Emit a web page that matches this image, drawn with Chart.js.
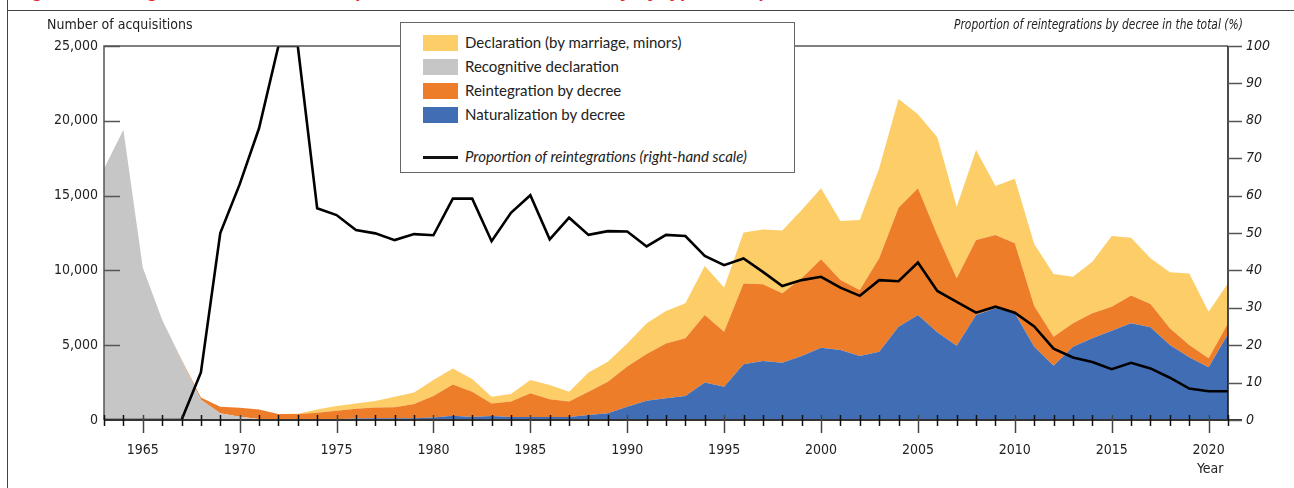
<!DOCTYPE html>
<html>
<head>
<meta charset="utf-8">
<script src="https://cdn.jsdelivr.net/npm/chart.js@4.4.1/dist/chart.umd.min.js"></script>
<style>
  body { margin: 0; background: #fff; width: 1294px; height: 488px; overflow: hidden; position: relative; font-family: 'Liberation Sans Narrow', 'DejaVu Sans Condensed', sans-serif; }
  #chart { position: absolute; left: 0; top: 0; }
  .abs { position: absolute; white-space: nowrap; }
  #titleClip { left: 0; top: 0; width: 1294px; height: 10px; overflow: hidden; }
  #title { left: 14px; top: -19.5px; font: bold 19px 'Liberation Sans', sans-serif; line-height: 19px; color: #e8262b; }
  #frameTop { left: 7px; top: 10px; width: 1287px; height: 0; border-top: 1.5px solid #444; }
  #frameLeft { left: 7px; top: 0; width: 0; height: 488px; border-left: 1.5px solid #444; }
  .axisTitle { font-size: 14px; color: #222; top: 16px; }
  #legend { left: 400px; top: 22px; width: 393px; height: 149px; border: 1.5px solid #666; background: #fff; font-family: Lato, sans-serif; font-size: 15px; color: #222; }
  .sw { position: absolute; left: 22px; width: 35px; height: 16px; }
  .lt { position: absolute; left: 64px; line-height: 18px; }
</style>
</head>
<body>
<div class="abs" id="titleClip"><div class="abs" id="title">Figure 1. Change in the number of acquisitions of French nationality by type of acquisition since 1963</div></div>
<div class="abs" id="frameTop"></div>
<div class="abs" id="frameLeft"></div>
<canvas id="chart" width="1294" height="488"></canvas>
<div class="abs axisTitle" style="left:47px;">Number of acquisitions</div>
<div class="abs axisTitle" style="right:51px;font-style:italic;transform:scaleX(0.85);transform-origin:right center;">Proportion of reintegrations by decree in the total (%)</div>
<div class="abs" style="left:1197px;top:460px;font-size:14px;color:#222;">Year</div>
<div class="abs" id="legend"></div>
<script>
const years = [1963,1964,1965,1966,1967,1968,1969,1970,1971,1972,1973,1974,1975,1976,1977,1978,1979,1980,
  1981,1982,1983,1984,1985,1986,1987,1988,1989,1990,1991,1992,1993,1994,1995,1996,1997,1998,1999,2000,
  2001,2002,2003,2004,2005,2006,2007,2008,2009,2010,2011,2012,2013,2014,2015,2016,2017,2018,2019,2020,2021];

const naturalization = [0,0,0,0,0,0,0,0,0,0,0,20,50,100,110,110,120,160,
  290,200,270,200,200,200,200,330,450,890,1290,1450,1600,2500,2230,3730,3940,3830,4280,4830,
  4680,4280,4570,6240,7020,5860,4970,7020,7470,7130,4900,3630,4900,5460,5970,6460,6200,5010,4190,3520,5750];

const recognitive = [16800,19400,10200,6700,4000,1350,450,220,60,0,0,0,0,0,0,0,0,0,
  0,0,0,0,0,0,0,0,0,0,0,0,0,0,0,0,0,0,0,0,
  0,0,0,0,0,0,0,0,0,0,0,0,0,0,0,0,0,0,0,0,0];

const reintegration = [0,0,0,0,40,150,440,600,650,400,400,470,570,660,720,740,950,1440,
  2090,1690,840,1030,1580,1180,1030,1560,2110,2680,3120,3670,3860,4520,3670,5400,5130,4640,5190,5910,
  4680,4410,6240,7950,8470,6510,4500,5010,4900,4680,2720,1940,1560,1670,1600,1870,1550,1120,820,600,710];

const declaration = [0,0,0,0,0,0,0,0,0,0,20,220,315,350,440,710,760,1070,
  1070,850,450,510,890,960,660,1280,1340,1550,2050,2170,2340,3270,2950,3400,3670,4190,4570,4750,
  3940,4680,6010,7270,4940,6530,4790,6020,3270,4320,4140,4190,3120,3450,4730,3860,3060,3740,4790,3120,2680];

const proportion = [0,0,0,0,0,12.7,50,63,78,100,100,56.6,54.8,50.8,49.9,48.1,49.7,49.4,
  59.2,59.2,47.8,55.4,60.1,48.3,54.1,49.5,50.5,50.4,46.4,49.5,49.2,43.9,41.4,43.2,39.6,35.8,37.4,38.3,
  35.4,33.2,37.4,37.1,42.1,34.5,31.6,28.7,30.3,28.7,25.0,19.1,16.7,15.5,13.6,15.3,13.8,11.3,8.4,7.7,7.7];

const leftTicks = [0, 5000, 10000, 15000, 20000, 25000];
const rightTicks = [0, 10, 20, 30, 40, 50, 60, 70, 80, 90, 100];

const colors = {
  declaration: '#fdcd68',
  recognitive: '#c6c6c6',
  reintegration: '#ed7d28',
  naturalization: '#416db4'
};

// legend (html box, same order as the reference)
const legendItems = [
  ['Declaration (by marriage, minors)', colors.declaration],
  ['Recognitive declaration', colors.recognitive],
  ['Reintegration by decree', colors.reintegration],
  ['Naturalization by decree', colors.naturalization]
];
const legend = document.getElementById('legend');
let html = '';
legendItems.forEach((it, i) => {
  const cy = 19.5 + i * 24.3;
  html += `<div class="sw" style="top:${cy - 8}px;background:${it[1]}"></div>`;
  html += `<div class="lt" style="top:${cy - 10}px">${it[0]}</div>`;
});
html += `<div style="position:absolute;left:22px;top:133px;width:35px;height:3px;background:#111"></div>`;
html += `<div class="lt" style="top:124px;font-style:italic">Proportion of reintegrations (right-hand scale)</div>`;
legend.innerHTML = html;

// ticks drawn by hand: inward on the left, across the axis at the bottom
const axisMarks = {
  id: 'axisMarks',
  afterDraw(chart) {
    const ctx = chart.ctx;
    const a = chart.chartArea;
    const x = chart.scales.x, y = chart.scales.y, y1 = chart.scales.y1;
    ctx.save();
    ctx.lineCap = 'butt';
    // frame
    ctx.strokeStyle = '#555'; ctx.lineWidth = 1.5;
    ctx.beginPath();
    ctx.moveTo(a.left, a.bottom); ctx.lineTo(a.left, a.top); ctx.lineTo(a.right, a.top);
    ctx.stroke();
    ctx.strokeStyle = '#111'; ctx.lineWidth = 1.5;
    ctx.beginPath(); ctx.moveTo(a.right, a.top); ctx.lineTo(a.right, a.bottom); ctx.stroke();
    ctx.strokeStyle = '#333'; ctx.lineWidth = 2;
    ctx.beginPath(); ctx.moveTo(a.left, a.bottom); ctx.lineTo(a.right + 14, a.bottom); ctx.stroke();
    // left ticks
    ctx.strokeStyle = '#555'; ctx.lineWidth = 1.5;
    leftTicks.forEach(v => {
      if (v === 0) return;
      const py = Math.round(y.getPixelForValue(v)) + 0.5;
      ctx.beginPath(); ctx.moveTo(a.left, py); ctx.lineTo(a.left + 16, py); ctx.stroke();
    });
    // right ticks
    rightTicks.forEach(v => {
      const py = Math.round(y1.getPixelForValue(v)) + 0.5;
      ctx.beginPath(); ctx.moveTo(a.right, py); ctx.lineTo(a.right + 14, py); ctx.stroke();
    });
    // year ticks
    years.forEach((yr, i) => {
      const px = Math.round(x.getPixelForValue(i)) + 0.5;
      const major = yr % 5 === 0;
      ctx.strokeStyle = major ? '#444' : '#111';
      ctx.beginPath(); ctx.moveTo(px, a.bottom - 5); ctx.lineTo(px, a.bottom + (major ? 13 : 6)); ctx.stroke();
    });
    ctx.restore();
  }
};

Chart.defaults.font.family = "'Liberation Sans Narrow', 'DejaVu Sans Condensed', sans-serif";
Chart.defaults.font.size = 14;
Chart.defaults.color = '#222';

function area(label, data, color, fill) {
  return {
    label: label, data: data, backgroundColor: color, borderColor: color,
    borderWidth: 0, pointRadius: 0, fill: fill, tension: 0, yAxisID: 'y', stack: 'acq', order: 2
  };
}

new Chart(document.getElementById('chart').getContext('2d'), {
  type: 'line',
  data: {
    labels: years,
    datasets: [
      area('Naturalization by decree', naturalization, colors.naturalization, 'origin'),
      area('Recognitive declaration', recognitive, colors.recognitive, '-1'),
      area('Reintegration by decree', reintegration, colors.reintegration, '-1'),
      area('Declaration (by marriage, minors)', declaration, colors.declaration, '-1'),
      {
        label: 'Proportion of reintegrations (right-hand scale)',
        data: proportion, borderColor: '#000', borderWidth: 2.6, pointRadius: 0,
        fill: false, tension: 0, yAxisID: 'y1', stack: 'prop', order: 0
      }
    ]
  },
  options: {
    responsive: false,
    animation: false,
    devicePixelRatio: 1,
    layout: { padding: { top: 46, left: 0, right: 0, bottom: 0 } },
    plugins: { legend: { display: false }, tooltip: { enabled: false } },
    scales: {
      x: {
        type: 'category', offset: false,
        grid: { display: false, drawTicks: false },
        border: { display: false },
        ticks: {
          autoSkip: false, maxRotation: 0, padding: 22,
          callback: function (v, i) { return years[i] % 5 === 0 ? String(years[i]) : ''; }
        },
        afterFit: s => { s.height = 68; }
      },
      y: {
        position: 'left', stacked: true, min: 0, max: 25000,
        grid: { display: false, drawTicks: false },
        border: { display: false },
        afterBuildTicks: s => { s.ticks = leftTicks.map(v => ({ value: v })); },
        ticks: { padding: 6, callback: v => v.toLocaleString('en-US') },
        afterFit: s => { s.width = 104; }
      },
      y1: {
        position: 'right', min: 0, max: 100,
        grid: { display: false, drawTicks: false },
        border: { display: false },
        afterBuildTicks: s => { s.ticks = rightTicks.map(v => ({ value: v })); },
        ticks: { padding: 18, font: { style: 'italic' } },
        afterFit: s => { s.width = 66; }
      }
    }
  },
  plugins: [axisMarks]
});
</script>
</body>
</html>
